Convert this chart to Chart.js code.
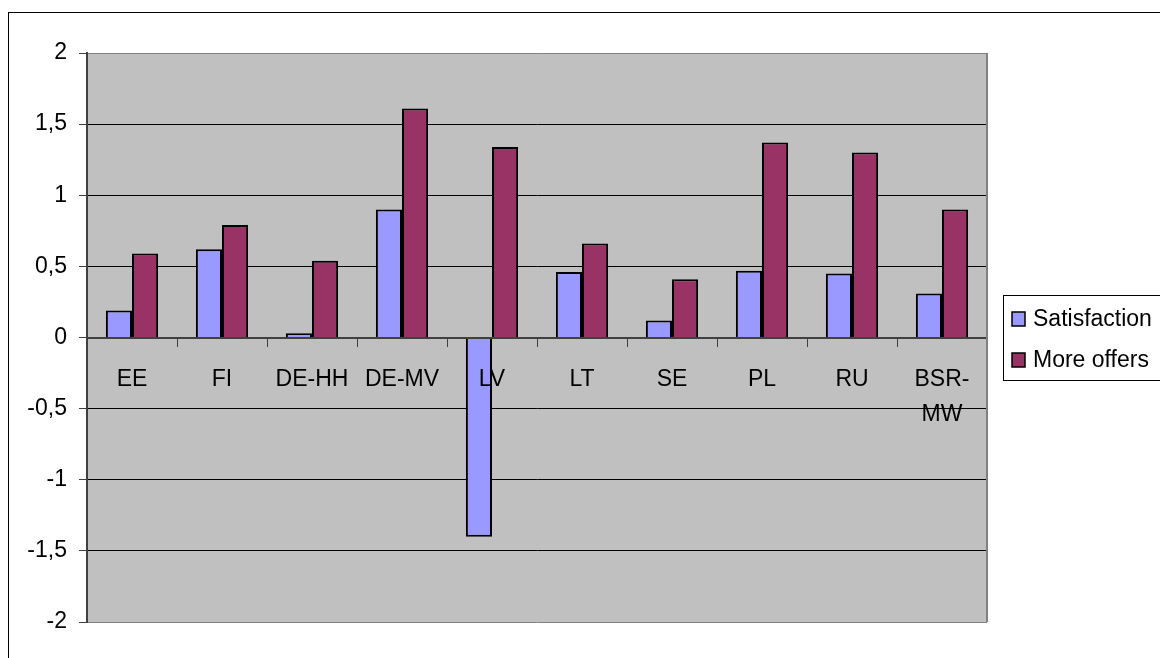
<!DOCTYPE html>
<html>
<head>
<meta charset="utf-8">
<script src="https://cdn.jsdelivr.net/npm/chart.js@4.4.1/dist/chart.umd.min.js"></script>
<style>
  body { margin: 0; background: #fff; }
  canvas { display: block; }
</style>
</head>
<body>
<canvas id="chart" width="1160" height="658"></canvas>
<script>
// Categories on the x axis
const categories = ["EE", "FI", "DE-HH", "DE-MV", "LV", "LT", "SE", "PL", "RU", ["BSR-", "MW"]];
// Series values
const satisfaction = [0.19, 0.62, 0.03, 0.9, -1.4, 0.46, 0.12, 0.47, 0.45, 0.31];
const moreOffers = [0.59, 0.79, 0.54, 1.61, 1.34, 0.66, 0.41, 1.37, 1.3, 0.9];
const seriesNames = ["Satisfaction", "More offers"];
const seriesColors = ["#9999FF", "#993366"];

const FONT = '"Liberation Sans", Arial, sans-serif';
Chart.defaults.font.family = FONT;
Chart.defaults.font.size = 23;
Chart.defaults.color = "#000";

// Gray plot area, plot frame, outer frame and legend
const frame = {
  id: "frame",
  beforeDraw(chart) {
    const { ctx, chartArea: a } = chart;
    ctx.save();
    ctx.fillStyle = "#fff";
    ctx.fillRect(0, 0, chart.width, chart.height);
    ctx.fillStyle = "#C0C0C0";
    ctx.fillRect(a.left, a.top, a.right - a.left, a.bottom - a.top);
    ctx.restore();
  },
  afterDraw(chart) {
    const { ctx, chartArea: a } = chart;
    ctx.save();
    // right edge of plot
    ctx.strokeStyle = "#808080";
    ctx.lineWidth = 2;
    ctx.beginPath();
    ctx.moveTo(a.right, a.top);
    ctx.lineTo(a.right, a.bottom);
    ctx.stroke();
    // outer frame
    ctx.strokeStyle = "#000";
    ctx.lineWidth = 1;
    ctx.strokeRect(8.5, 12.5, 1300, 800);
    // legend
    ctx.strokeRect(1003.5, 295.5, 300, 85);
    ctx.font = "23px " + FONT;
    ctx.textBaseline = "middle";
    const rows = [319, 360];
    chart.data.datasets.forEach((ds, i) => {
      ctx.fillStyle = ds.backgroundColor;
      ctx.fillRect(1012, rows[i] - 7, 13, 14);
      ctx.lineWidth = 1.5;
      ctx.strokeRect(1012, rows[i] - 7, 13, 14);
      ctx.fillStyle = "#000";
      ctx.fillText(ds.label, 1033, rows[i] + 1);
    });
    ctx.restore();
  }
};

new Chart(document.getElementById("chart"), {
  type: "bar",
  plugins: [frame],
  data: {
    labels: categories,
    datasets: [
      { label: seriesNames[0], data: satisfaction, backgroundColor: seriesColors[0] },
      { label: seriesNames[1], data: moreOffers, backgroundColor: seriesColors[1] }
    ]
  },
  options: {
    responsive: false,
    animation: false,
    layout: { padding: { top: 53, right: 173, bottom: 36, left: 0 } },
    datasets: {
      bar: {
        categoryPercentage: 0.58,
        barPercentage: 1,
        borderColor: "#000",
        borderWidth: 2
      }
    },
    plugins: {
      legend: { display: false },
      tooltip: { enabled: false }
    },
    scales: {
      x: {
        position: { y: 0 },
        grid: {
          z: 1,
          offset: true,
          drawOnChartArea: false,
          drawTicks: true,
          tickLength: 8,
          tickColor: "#404040"
        },
        border: { color: "#404040", width: 2, z: 1 },
        ticks: {
          z: 1,
          padding: 16,
          maxRotation: 0,
          autoSkip: false,
          font: { lineHeight: 1.55 }
        }
      },
      y: {
        min: -2,
        max: 2,
        afterFit(scale) { scale.width = 87; },
        grid: {
          color: (c) => {
            const v = c.tick.value;
            if (v === 0) return "rgba(0,0,0,0)";
            if (v === 2 || v === -2) return "#808080";
            return "#000";
          },
          tickLength: 8,
          tickColor: "#404040"
        },
        border: { color: "#404040", width: 2 },
        ticks: {
          stepSize: 0.5,
          padding: 12,
          callback: (v) => String(v).replace(".", ",")
        }
      }
    }
  }
});
</script>
</body>
</html>
